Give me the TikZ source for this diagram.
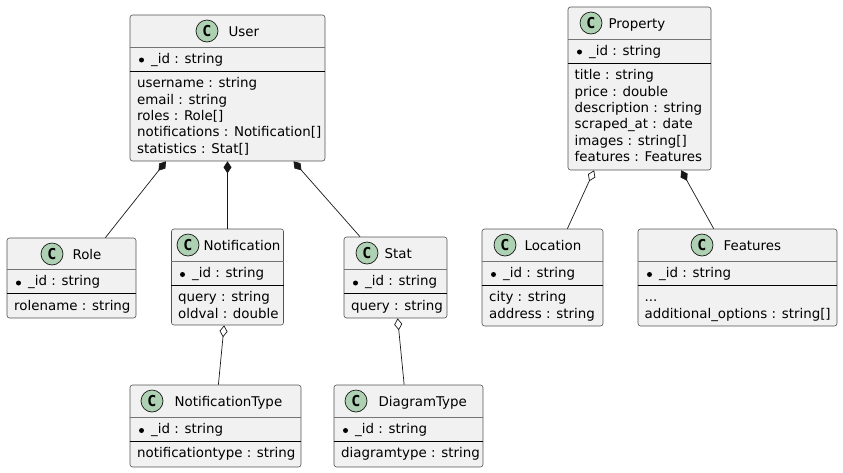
\documentclass[tikz,border=0pt]{standalone}
\usepackage{fontspec}
\setmainfont{DejaVu Sans}
\newfontfamily\markfont{DejaVu Sans Mono}
\usetikzlibrary{positioning}
\usetikzlibrary{arrows.meta}

\definecolor{boxfill}{HTML}{F1F1F1}
\definecolor{boxline}{HTML}{181818}
\definecolor{markfill}{HTML}{ADD1B2}

\tikzset{
    classbox/.style={draw=boxline!75, fill=boxfill, rounded corners=2.5pt, line width=0.6pt, inner sep=0pt},
    classmark/.style={circle, draw=boxline, fill=markfill, line width=0.7pt, minimum size=22pt, inner sep=0pt, font=\markfont\bfseries\fontsize{15}{15}\selectfont},
    classtitle/.style={inner sep=0pt, text height=10pt, text depth=0pt, font=\fontsize{13.4}{16}\selectfont},
    classtext/.style={anchor=north west, inner sep=0pt, align=left, font=\fontsize{13.4}{16.3}\selectfont},
    keydot/.style={circle, fill=black, minimum size=5pt, inner sep=0pt},
    titlerule/.style={draw=boxline!60, line width=0.6pt},
    keyrule/.style={draw=black, line width=0.8pt},
    composed/.style={{Diamond[length=12pt, width=8pt]}-, draw=boxline, line width=0.7pt},
    aggregated/.style={{Diamond[open, length=12pt, width=8pt]}-, draw=boxline, line width=0.7pt},
}

\begin{document}
\begin{tikzpicture}[x=1pt, y=-1pt]
    \useasboundingbox (0,0) rectangle (843,472);

    % user group
    \node[classbox, minimum width=195pt, minimum height=146pt] (user) at (227.5,88) {};
    \node[classmark] (usermark) at (207,31) {C};
    \node[classtitle, right=10pt of usermark] (usertitle) {User};
    \draw[titlerule] (user.west |- 0,47) -- (user.east |- 0,47);
    \draw[keyrule] (user.west |- 0,71) -- (user.east |- 0,71);
    \node[keydot] (userdot) at (141.5,60) {};
    \node[classtext] (userkey) at (151,52.7) {\_id : string};
    \node[classtext] (userfields) at (137,76.3) {\strut username : string\\email : string\\roles : Role[]\\notifications : Notification[]\\statistics : Stat[]};

    \node[classbox, minimum width=129pt, minimum height=80pt] (role) at (71.5,278) {};
    \node[classmark] (rolemark) at (52,254) {C};
    \node[classtitle, right=9pt of rolemark] (roletitle) {Role};
    \draw[titlerule] (role.west |- 0,269.5) -- (role.east |- 0,269.5);
    \draw[keyrule] (role.west |- 0,293.5) -- (role.east |- 0,293.5);
    \node[keydot] (roledot) at (18.5,283) {};
    \node[classtext] (rolekey) at (28,275.2) {\_id : string};
    \node[classtext] (rolefields) at (14,298.8) {\strut rolename : string};

    \node[classbox, minimum width=112pt, minimum height=96pt] (notification) at (227.5,277) {};
    \node[classmark] (notificationmark) at (188,245) {C};
    \node[classtitle, right=4pt of notificationmark] (notificationtitle) {Notification};
    \draw[titlerule] (notification.west |- 0,261) -- (notification.east |- 0,261);
    \draw[keyrule] (notification.west |- 0,285) -- (notification.east |- 0,285);
    \node[keydot] (notificationdot) at (182.5,274.5) {};
    \node[classtext] (notificationkey) at (192,266.7) {\_id : string};
    \node[classtext] (notificationfields) at (178,290.3) {\strut query : string\\oldval : double};

    \node[classbox, minimum width=103pt, minimum height=81pt] (stat) at (395.5,277.5) {};
    \node[classmark] (statmark) at (367,253) {C};
    \node[classtitle, right=6pt of statmark] (stattitle) {Stat};
    \draw[titlerule] (stat.west |- 0,269.5) -- (stat.east |- 0,269.5);
    \draw[keyrule] (stat.west |- 0,293.5) -- (stat.east |- 0,293.5);
    \node[keydot] (statdot) at (355.5,283) {};
    \node[classtext] (statkey) at (365,275.2) {\_id : string};
    \node[classtext] (statfields) at (351,298.8) {\strut query : string};

    \node[classbox, minimum width=171pt, minimum height=82pt] (notificationtype) at (215.5,426) {};
    \node[classmark] (notificationtypemark) at (152,401) {C};
    \node[classtitle, right=11pt of notificationtypemark] (notificationtypetitle) {NotificationType};
    \draw[titlerule] (notificationtype.west |- 0,417) -- (notificationtype.east |- 0,417);
    \draw[keyrule] (notificationtype.west |- 0,441) -- (notificationtype.east |- 0,441);
    \node[keydot] (notificationtypedot) at (141.5,430.5) {};
    \node[classtext] (notificationtypekey) at (151,422.7) {\_id : string};
    \node[classtext] (notificationtypefields) at (137,446.3) {\strut notificationtype : string};

    \node[classbox, minimum width=149pt, minimum height=82pt] (diagramtype) at (408.5,426) {};
    \node[classmark] (diagramtypemark) at (356,401) {C};
    \node[classtitle, right=11pt of diagramtypemark] (diagramtypetitle) {DiagramType};
    \draw[titlerule] (diagramtype.west |- 0,417) -- (diagramtype.east |- 0,417);
    \draw[keyrule] (diagramtype.west |- 0,441) -- (diagramtype.east |- 0,441);
    \node[keydot] (diagramtypedot) at (345.5,430.5) {};
    \node[classtext] (diagramtypekey) at (355,422.7) {\_id : string};
    \node[classtext] (diagramtypefields) at (341,446.3) {\strut diagramtype : string};

    % property group
    \node[classbox, minimum width=143pt, minimum height=163pt] (property) at (639.5,88.5) {};
    \node[classmark] (propertymark) at (591,23) {C};
    \node[classtitle, right=6pt of propertymark] (propertytitle) {Property};
    \draw[titlerule] (property.west |- 0,39) -- (property.east |- 0,39);
    \draw[keyrule] (property.west |- 0,63) -- (property.east |- 0,63);
    \node[keydot] (propertydot) at (579.5,52) {};
    \node[classtext] (propertykey) at (589,44.7) {\_id : string};
    \node[classtext] (propertyfields) at (574.5,68.3) {\strut title : string\\price : double\\description : string\\scraped\_at : date\\images : string[]\\features : Features};

    \node[classbox, minimum width=121pt, minimum height=97pt] (location) at (542.5,277.5) {};
    \node[classmark] (locationmark) at (505,245) {C};
    \node[classtitle, right=8pt of locationmark] (locationtitle) {Location};
    \draw[titlerule] (location.west |- 0,261) -- (location.east |- 0,261);
    \draw[keyrule] (location.west |- 0,285) -- (location.east |- 0,285);
    \node[keydot] (locationdot) at (493.5,274.5) {};
    \node[classtext] (locationkey) at (503,266.7) {\_id : string};
    \node[classtext] (locationfields) at (489,290.3) {\strut city : string\\address : string};

    \node[classbox, minimum width=199pt, minimum height=97pt] (features) at (737.5,277.5) {};
    \node[classmark] (featuresmark) at (702,245) {C};
    \node[classtitle, right=10pt of featuresmark] (featurestitle) {Features};
    \draw[titlerule] (features.west |- 0,261) -- (features.east |- 0,261);
    \draw[keyrule] (features.west |- 0,285) -- (features.east |- 0,285);
    \node[keydot] (featuresdot) at (649.5,274.5) {};
    \node[classtext] (featureskey) at (659,266.7) {\_id : string};
    \node[classtext] (featuresfields) at (644.5,290.3) {\strut ...\\additional\_options : string[]};

    \path
        (user.230.4) edge[composed] (role.50.9)
        (user.south) edge[composed] (notification.north)
        (user.312) edge[composed] (stat.131.2)
        (notification.266.4) edge[aggregated] (notificationtype.86.5)
        (stat.273.5) edge[aggregated] (diagramtype.96.3)
        (property.241.4) edge[aggregated] (location.63.2)
        (property.297.5) edge[composed] (features.116.8)
        ;
\end{tikzpicture}
\end{document}
